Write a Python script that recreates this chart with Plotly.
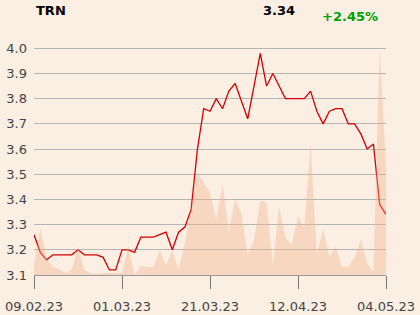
import plotly.graph_objects as go

# --- data ---
tick_labels = ["09.02.23", "01.03.23", "21.03.23", "12.04.23", "04.05.23"]
tick_index = [0, 14, 28, 42, 56]

price = [3.26, 3.19, 3.16, 3.18, 3.18, 3.18, 3.18, 3.20, 3.18, 3.18,
         3.18, 3.17, 3.12, 3.12, 3.20, 3.20, 3.19, 3.25, 3.25, 3.25,
         3.26, 3.27, 3.20, 3.27, 3.29, 3.36, 3.60, 3.76, 3.75, 3.80,
         3.76, 3.83, 3.86, 3.79, 3.72, 3.85, 3.98, 3.85, 3.90, 3.85,
         3.80, 3.80, 3.80, 3.80, 3.83, 3.75, 3.70, 3.75, 3.76, 3.76,
         3.70, 3.70, 3.66, 3.60, 3.62, 3.38, 3.34]

volume = [10, 47, 17, 8, 6, 2, 5, 29, 5, 2,
          1, 2, 2, 2, 2, 29, 0, 9, 8, 8,
          25, 10, 25, 5, 32, 68, 103, 93, 83, 55,
          92, 43, 77, 62, 20, 35, 75, 73, 10, 69,
          38, 30, 59, 47, 133, 20, 47, 18, 29, 8,
          8, 18, 36, 12, 3, 229, 110]

x = list(range(len(price)))

BG = "#fbeee2"
fig = go.Figure()
fig.add_trace(go.Scatter(x=x, y=volume, yaxis="y2", mode="lines",
                         fill="tozeroy", line=dict(width=0, color="rgba(0,0,0,0)"),
                         fillcolor="rgba(243,180,135,0.38)", hoverinfo="skip",
                         showlegend=False))
fig.add_trace(go.Scatter(x=x, y=price, mode="lines",
                         line=dict(color="#d40000", width=1.3),
                         showlegend=False))

fig.update_layout(
    width=420, height=315,
    margin=dict(l=34, r=34, t=47, b=40),
    paper_bgcolor=BG, plot_bgcolor=BG,
    font=dict(family="DejaVu Sans", size=13, color="#444444"),
    xaxis=dict(range=[0, 56], tickvals=tick_index, ticktext=tick_labels,
               showgrid=False, zeroline=False, showline=True, automargin=False,
               linecolor="#999999", linewidth=1,
               ticks="outside", ticklen=13, tickcolor="#777777", tickwidth=1,
               ticklabelstandoff=6),
    yaxis=dict(range=[3.1, 4.005], tickvals=[3.1, 3.2, 3.3, 3.4, 3.5, 3.6, 3.7, 3.8, 3.9, 4.0],
               tickformat=".1f", showgrid=True, gridcolor="#b5b5b5", gridwidth=1,
               zeroline=False, showline=False, ticks="", ticklabelstandoff=6,
               automargin=False),
    yaxis2=dict(range=[0, 230], overlaying="y", visible=False),
)

def px_x(p):
    return (p - 34) / 352

def px_y(p):
    return (275 - p) / 228

fig.add_annotation(x=px_x(34), y=px_y(10), xref="paper", yref="paper",
                   text="<b>TRN</b>", showarrow=False, xanchor="left", yanchor="middle",
                   font=dict(size=13, color="#000000"))
fig.add_annotation(x=px_x(297), y=px_y(10), xref="paper", yref="paper",
                   text="<b>3.34</b>", showarrow=False, xanchor="right", yanchor="middle",
                   font=dict(size=13, color="#000000"))
fig.add_annotation(x=px_x(380), y=px_y(16.5), xref="paper", yref="paper",
                   text="<b>+2.45%</b>", showarrow=False, xanchor="right", yanchor="middle",
                   font=dict(size=13, color="#00a000"))

fig.write_html("out.html")
